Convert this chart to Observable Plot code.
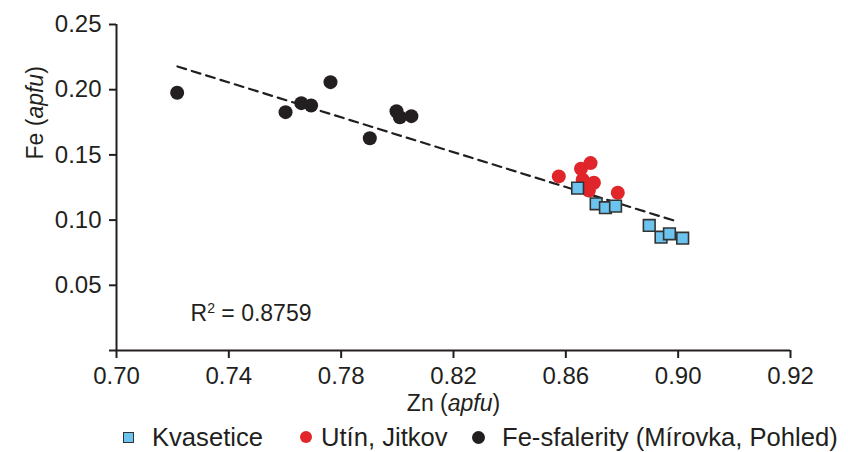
<!DOCTYPE html>
<html>
<head>
<meta charset="utf-8">
<script src="https://cdn.jsdelivr.net/npm/d3@7"></script>
<script src="https://cdn.jsdelivr.net/npm/@observablehq/plot@0.6"></script>
<style>
  body { margin: 0; background: #fff; font-family: "Liberation Sans", Arial, sans-serif; }
  #wrap { position: relative; width: 848px; height: 452px; background: #fff; }
  #legend { position: absolute; left: 0; top: 0; width: 848px; height: 452px; pointer-events: none; color: #231f20; font-size: 25.6px; }
  .mk { position: absolute; box-sizing: border-box; }
  .lt { position: absolute; top: 424px; line-height: 26px; white-space: nowrap; }
</style>
</head>
<body>
<div id="wrap"><div id="chart"></div><div id="legend"></div></div>
<script>
// ---- data ----
const seriesNames = ["Kvasetice", "Utín, Jitkov", "Fe-sfalerity (Mírovka, Pohled)"];

const kvaseticeZn = [0.8642, 0.8708, 0.8741, 0.8777, 0.8897, 0.8939, 0.8969, 0.9016];
const kvaseticeFe = [0.1245, 0.1125, 0.1095, 0.1107, 0.0959, 0.0869, 0.0895, 0.0861];

const utinZn = [0.8575, 0.8654, 0.8688, 0.8660, 0.8700, 0.8682, 0.8785];
const utinFe = [0.1335, 0.1394, 0.1437, 0.1309, 0.1286, 0.1227, 0.1210];

const mirovkaZn = [0.7216, 0.7602, 0.7658, 0.7693, 0.7762, 0.7902, 0.7997, 0.8009, 0.8050];
const mirovkaFe = [0.1977, 0.1828, 0.1897, 0.1879, 0.2058, 0.1628, 0.1835, 0.1789, 0.1797];

const trendZn = [0.7217, 0.8996];
const trendFe = [0.2178, 0.0989];

const xTicks = [0.70, 0.74, 0.78, 0.82, 0.86, 0.90, 0.94];
const xTickLabels = ["0.70", "0.74", "0.78", "0.82", "0.86", "0.90", "0.92"];
const yTicks = [0, 0.05, 0.10, 0.15, 0.20, 0.25];
const yTickLabels = ["", "0.05", "0.10", "0.15", "0.20", "0.25"];

const xTitle = "Zn (apfu)";
const yTitle = "Fe (apfu)";
const rSquaredLabel = "R2 = 0.8759";

// ---- build tables ----
const rows = (xs, ys, s) => xs.map((x, i) => ({zn: x, fe: ys[i], series: s}));
const kvasetice = rows(kvaseticeZn, kvaseticeFe, seriesNames[0]);
const utin = rows(utinZn, utinFe, seriesNames[1]);
const mirovka = rows(mirovkaZn, mirovkaFe, seriesNames[2]);
const trend = rows(trendZn, trendFe, "trend");

const ink = "#231f20";
const red = "#e0262a";
const blue = "#6cc4ee";

const chart = Plot.plot({
  width: 848,
  height: 418,
  marginLeft: 116,
  marginRight: 58,
  marginTop: 24,
  marginBottom: 68,
  style: {fontFamily: "Liberation Sans, Arial, sans-serif", fontSize: "24px", color: ink, background: "white", overflow: "visible"},
  x: {domain: [xTicks[0], xTicks[xTicks.length - 1]]},
  y: {domain: [yTicks[0], yTicks[yTicks.length - 1]]},
  marks: [
    Plot.axisX({ticks: xTicks, tickFormat: (d, i) => xTickLabels[i], tickSize: 8, tickPadding: 8, strokeWidth: 2, label: null, fontSize: 24}),
    Plot.axisY({ticks: yTicks, tickFormat: (d, i) => yTickLabels[i], tickSize: 7, tickPadding: 8, strokeWidth: 2, label: null, fontSize: 24}),
    Plot.ruleX([xTicks[0]], {y1: yTicks[0], y2: yTicks[yTicks.length - 1], stroke: ink, strokeWidth: 2}),
    Plot.ruleY([yTicks[0]], {x1: xTicks[0], x2: xTicks[xTicks.length - 1], stroke: ink, strokeWidth: 2}),
    Plot.line(trend, {x: "zn", y: "fe", stroke: ink, strokeWidth: 2.2, strokeDasharray: "9,6"}),
    Plot.dot(mirovka, {x: "zn", y: "fe", r: 7, fill: ink, stroke: "none"}),
    Plot.dot(utin, {x: "zn", y: "fe", r: 7, fill: red, stroke: "none"}),
    Plot.dot(kvasetice, {x: "zn", y: "fe", symbol: "square", r: 6.6, fill: blue, stroke: "#333", strokeWidth: 1.6}),
    Plot.text([rSquaredLabel], {frameAnchor: "bottom-left", dx: 74, dy: -30, textAnchor: "start", fontSize: 23, fill: ink}),
    Plot.text([xTitle], {frameAnchor: "bottom", dy: 60, fontSize: 23, fill: ink}),
    Plot.text([yTitle], {frameAnchor: "left", dx: -81, dy: -28, rotate: -90, fontSize: 23, fill: ink})
  ]
});

// italicize "apfu" in axis titles, superscript the 2 in R2
d3.select(chart).selectAll("text").each(function() {
  const t = this.textContent;
  const m = /^(.*\()(apfu)(\))$/.exec(t);
  const r = /^R2( = .*)$/.exec(t);
  if (m) {
    const s = d3.select(this);
    s.text(null);
    s.append("tspan").text(m[1]);
    s.append("tspan").attr("font-style", "italic").text(m[2]);
    s.append("tspan").text(m[3]);
  } else if (r) {
    const s = d3.select(this);
    s.text(null);
    s.append("tspan").text("R");
    s.append("tspan").attr("font-size", 14).attr("dy", -8).text("2");
    s.append("tspan").attr("dy", 8).text(r[1]);
  }
});

document.getElementById("chart").appendChild(chart);

// legend (HTML, below the plot area)
const legend = document.getElementById("legend");
const legendItems = [
  {name: seriesNames[0], shape: "square", color: blue, mLeft: 123, mSize: 11, tLeft: 152},
  {name: seriesNames[1], shape: "circle", color: red, mLeft: 300, mSize: 12, tLeft: 321},
  {name: seriesNames[2], shape: "circle", color: ink, mLeft: 472, mSize: 13, tLeft: 502}
];
for (const it of legendItems) {
  const m = document.createElement("div");
  m.className = "mk";
  m.style.left = it.mLeft + "px";
  m.style.top = (437 - it.mSize / 2) + "px";
  m.style.width = it.mSize + "px";
  m.style.height = it.mSize + "px";
  m.style.background = it.color;
  if (it.shape === "circle") m.style.borderRadius = "50%";
  else m.style.border = "1.5px solid #333";
  legend.appendChild(m);
  const t = document.createElement("div");
  t.className = "lt";
  t.style.left = it.tLeft + "px";
  t.textContent = it.name;
  legend.appendChild(t);
}
</script>
</body>
</html>
